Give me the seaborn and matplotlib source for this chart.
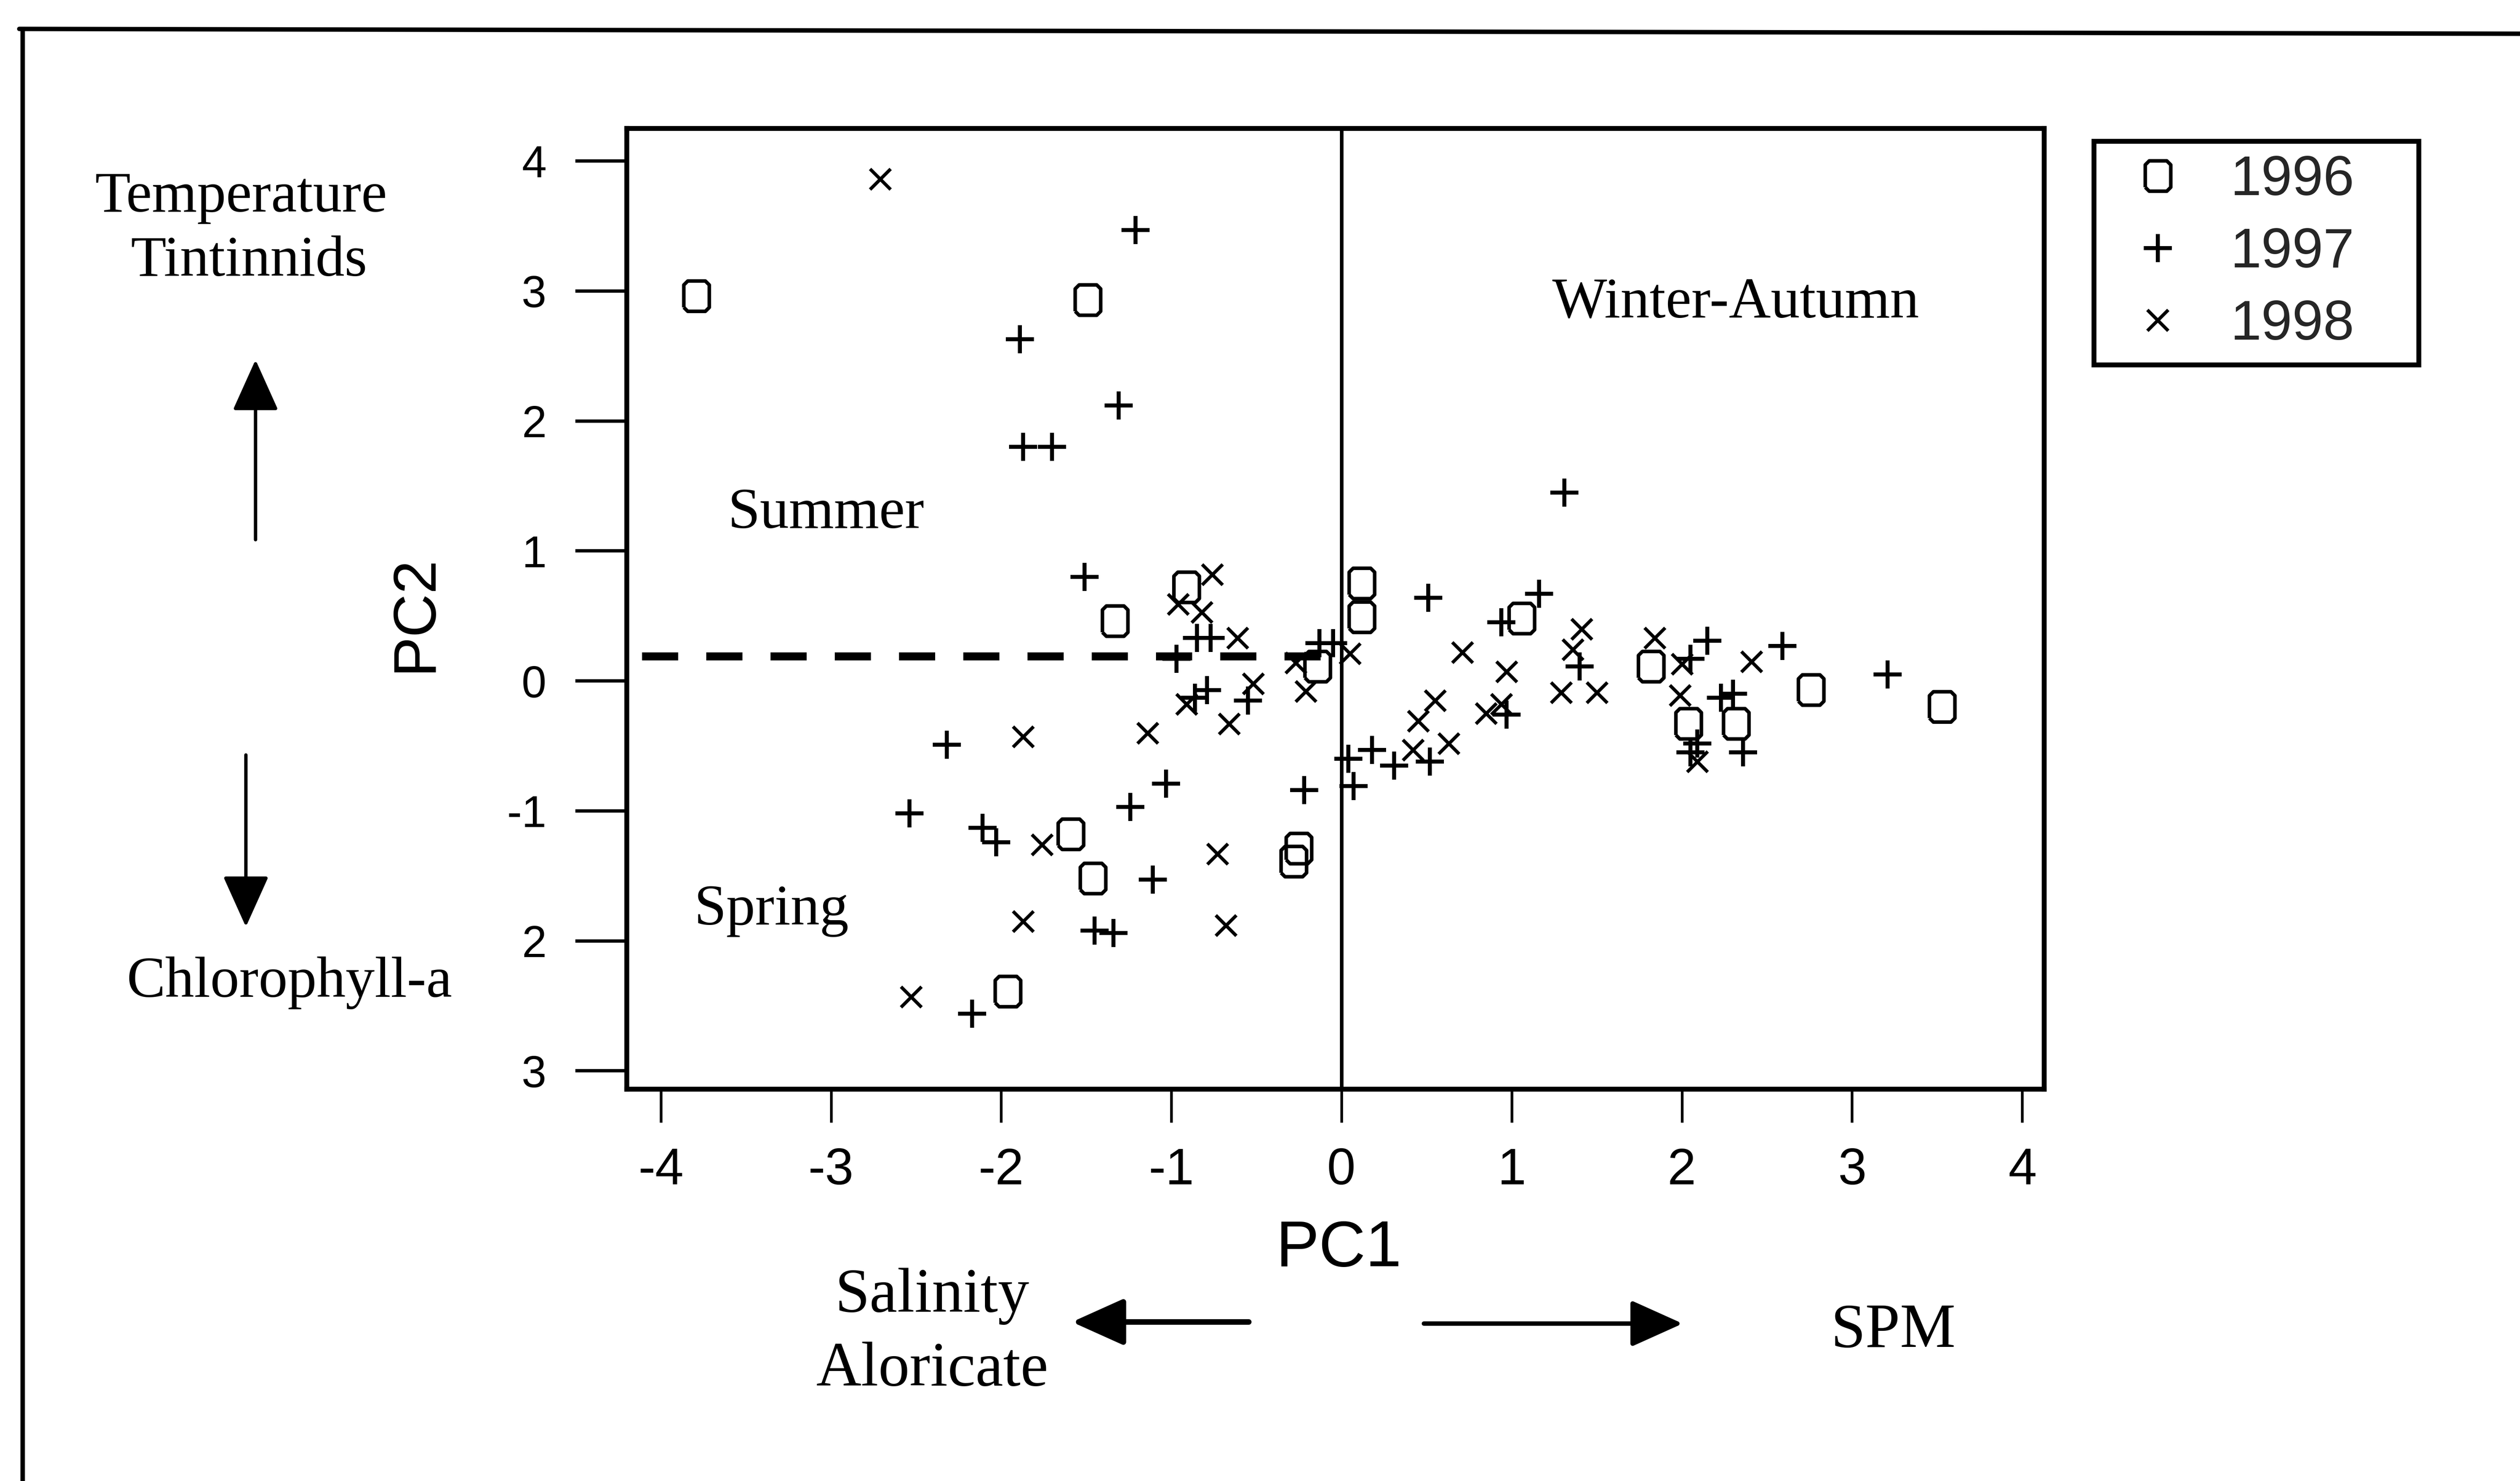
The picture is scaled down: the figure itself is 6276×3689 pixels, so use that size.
import numpy as np
import pandas as pd
import matplotlib
matplotlib.use("Agg")
import matplotlib.pyplot as plt
import seaborn as sns
from matplotlib.lines import Line2D
from matplotlib.patches import FancyArrowPatch
from matplotlib import font_manager
from matplotlib.font_manager import FontProperties

# ---------------- data ----------------
YEARS = ["1996", "1997", "1998"]

PC1_1996 = [-3.79, -1.49, -1.33, -0.91, -0.14, 0.12, 0.12, 1.06, 1.82, 2.04, 2.32, 2.76, 3.53,
            -1.59, -1.46, -1.96, -0.25, -0.28]
PC2_1996 = [2.96, 2.93, 0.46, 0.72, 0.11, 0.75, 0.49, 0.48, 0.11, -0.33, -0.33, -0.07, -0.20,
            -1.18, -1.52, -2.39, -1.29, -1.39]

PC1_1997 = [-1.21, -1.89, -1.31, -1.87, -1.70, -1.51, -0.85, -0.77, -0.97, -0.13, -0.05, -0.86,
            -0.79, -0.55, -2.32, -1.03, -0.22, -1.24, -2.54, -2.11, -2.03, -1.11, -1.45, -1.34,
            -2.17, 0.51, 1.16, 0.94, 1.31, 1.40, 0.97, 0.04, 0.18, 0.31, 0.52, 0.07, 2.05, 2.15,
            2.59, 2.23, 2.30, 2.09, 2.05, 2.36, 3.21]
PC2_1997 = [3.47, 2.63, 2.12, 1.80, 1.80, 0.80, 0.33, 0.33, 0.17, 0.29, 0.29, -0.13, -0.07,
            -0.15, -0.49, -0.79, -0.84, -0.97, -1.02, -1.13, -1.24, -1.53, -1.92, -1.94, -2.56,
            0.64, 0.67, 0.45, 1.45, 0.11, -0.26, -0.60, -0.53, -0.65, -0.62, -0.81, 0.17, 0.31,
            0.27, -0.13, -0.10, -0.48, -0.55, -0.55, 0.05]

PC1_1998 = [-2.71, -0.76, -0.96, -0.82, -0.61, -0.27, -0.21, 0.05, -0.91, -0.52, -0.66, -1.14,
            -1.87, -1.76, -0.73, -1.87, -0.68, -2.53, 0.71, 0.97, 0.94, 0.85, 0.45, 0.55, 0.42,
            0.63, 1.41, 1.36, 1.29, 1.50, 1.84, 2.00, 2.41, 1.99, 2.09]
PC2_1998 = [3.86, 0.82, 0.59, 0.53, 0.33, 0.14, -0.08, 0.21, -0.18, -0.02, -0.33, -0.40, -0.43,
            -1.26, -1.33, -1.85, -1.88, -2.43, 0.22, 0.07, -0.18, -0.25, -0.31, -0.15, -0.53,
            -0.48, 0.40, 0.24, -0.09, -0.09, 0.33, 0.13, 0.15, -0.11, -0.62]

X_TICKS = [-4, -3, -2, -1, 0, 1, 2, 3, 4]
X_TICK_LABELS = ["-4", "-3", "-2", "-1", "0", "1", "2", "3", "4"]
Y_TICKS = [-3, -2, -1, 0, 1, 2, 3, 4]
Y_TICK_LABELS = ["3", "2", "-1", "0", "1", "2", "3", "4"]

SPLIT_PC2 = 0.19           # dashed separation line
SPLIT_FROM, SPLIT_TO = -4.11, -0.05

# ---------------- style ----------------
sns.set_theme(style="white")
plt.rcParams["font.family"] = ["Liberation Sans", "DejaVu Sans"]
names = {f.name for f in font_manager.fontManager.ttflist}
NARROW = "Liberation Sans Narrow" if "Liberation Sans Narrow" in names else "Liberation Sans"
SANS = "Liberation Sans"
SERIF = "Liberation Serif"

W, H = 6276, 3689
fig = plt.figure(figsize=(W / 400, H / 400), dpi=400)
fig.patch.set_facecolor("white")


def fx(x):
    return x / 1568.0


def fy(y):
    return 1 - y / 922.0


ax = fig.add_axes([fx(390), fy(678), fx(1272) - fx(390), fy(80) - fy(678)])
ax.set_facecolor("white")

OCT = [(-0.42, -0.37), (-0.29, -0.5), (0.29, -0.5), (0.42, -0.37), (0.42, 0.37),
       (0.29, 0.5), (-0.29, 0.5), (-0.42, 0.37), (-0.42, -0.37)]

df = pd.concat([
    pd.DataFrame({"PC1": PC1_1996, "PC2": PC2_1996, "year": "1996"}),
    pd.DataFrame({"PC1": PC1_1997, "PC2": PC2_1997, "year": "1997"}),
    pd.DataFrame({"PC1": PC1_1998, "PC2": PC2_1998, "year": "1998"}),
], ignore_index=True)

# separation line and PC1 = 0 line
ax.plot([SPLIT_FROM, SPLIT_TO], [SPLIT_PC2, SPLIT_PC2], color="black", lw=3.6,
        linestyle=(0, (4.5, 3.5)), solid_capstyle="butt", zorder=1)
ax.axvline(0, color="black", lw=1.6, zorder=1)

sns.scatterplot(data=df[df.year == "1996"], x="PC1", y="PC2", marker=OCT, s=185,
                color="black", facecolor="none", edgecolor="black", linewidth=1.6,
                ax=ax, legend=False, zorder=3)
sns.scatterplot(data=df[df.year == "1997"], x="PC1", y="PC2", marker="+", s=160,
                color="black", linewidth=1.8, ax=ax, legend=False, zorder=3)
sns.scatterplot(data=df[df.year == "1998"], x="PC1", y="PC2", marker="x", s=85,
                color="black", linewidth=1.5, ax=ax, legend=False, zorder=3)

ax.set_xlim(-4.20, 4.13)
ax.set_ylim(-3.14, 4.25)

ax.set_xticks(X_TICKS)
ax.set_xticklabels(X_TICK_LABELS, fontfamily=NARROW, fontsize=23)
ax.set_yticks(Y_TICKS)
ax.set_yticklabels(Y_TICK_LABELS, fontfamily=SANS, fontsize=20)
ax.tick_params(axis="x", direction="out", length=15, width=1.2, pad=11, colors="black",
               bottom=True)
ax.tick_params(axis="y", direction="out", length=23, width=1.5, pad=13, colors="black",
               left=True)
for sp in ax.spines.values():
    sp.set_visible(True)
    sp.set_color("black")
    sp.set_linewidth(2.2)

ax.set_xlabel("PC1", fontfamily=NARROW, fontsize=29, color="black")
ax.xaxis.set_label_coords((833 - 390) / 882, (678 - 759) / 598)
ax.set_ylabel("PC2", fontfamily=SANS, fontsize=27, color="black")
ax.yaxis.set_label_coords((276 - 390) / 882, (678 - 382) / 598)

# legend
handles = [
    Line2D([], [], marker=OCT, ls="none", color="black", mfc="none", ms=13.6, mew=1.6),
    Line2D([], [], marker="+", ls="none", color="black", ms=12.6, mew=1.8),
    Line2D([], [], marker="x", ls="none", color="black", ms=9.2, mew=1.5),
]
leg = fig.legend(handles, YEARS, loc="upper left",
                 bbox_to_anchor=(fx(1303), fy(225), fx(1505) - fx(1303), fy(88) - fy(225)),
                 bbox_transform=fig.transFigure, mode="expand", borderaxespad=0,
                 prop=FontProperties(family=NARROW, size=25), frameon=True, fancybox=False,
                 framealpha=1, edgecolor="black", borderpad=0.24, labelspacing=0.36,
                 handlelength=1.8, handletextpad=0.4)
leg.get_frame().set_linewidth(2.2)

# annotation texts
serif_kw = dict(fontfamily=SERIF, color="black", ha="center", va="center")
fig.text(fx(150), fy(123), "Temperature", fontsize=26, **serif_kw)
fig.text(fx(155), fy(163), "Tintinnids", fontsize=26, **serif_kw)
fig.text(fx(180), fy(612), "Chlorophyll-a", fontsize=26, **serif_kw)
fig.text(fx(514), fy(320), "Summer", fontsize=26, **serif_kw)
fig.text(fx(480), fy(567), "Spring", fontsize=26, **serif_kw)
fig.text(fx(1080), fy(189), "Winter-Autumn", fontsize=26, **serif_kw)
fig.text(fx(580), fy(807), "Salinity", fontsize=28, **serif_kw)
fig.text(fx(580), fy(853), "Aloricate", fontsize=28, **serif_kw)
fig.text(fx(1178), fy(829), "SPM", fontsize=28, **serif_kw)

# arrows


def arrow(x0, y0, x1, y1, lw):
    fig.add_artist(FancyArrowPatch((fx(x0), fy(y0)), (fx(x1), fy(y1)),
                                   transform=fig.transFigure,
                                   arrowstyle="-|>,head_length=1.0,head_width=0.45",
                                   mutation_scale=20, lw=lw, color="black",
                                   shrinkA=0, shrinkB=0))


arrow(159, 336, 159, 224, 1.5)
arrow(153, 470, 153, 577, 1.5)
arrow(777, 823, 667, 823, 2.5)
arrow(886, 824, 1047, 824, 2.0)

# outer frame of the figure (top and left edges visible in the reference)
fig.add_artist(Line2D([fx(12), 1.0], [fy(18), fy(21)], transform=fig.transFigure,
                      color="black", lw=2.0))
fig.add_artist(Line2D([fx(14), fx(14)], [fy(18), 0.0], transform=fig.transFigure,
                      color="black", lw=2.0))

fig.savefig("out.png", dpi=400, facecolor="white")
